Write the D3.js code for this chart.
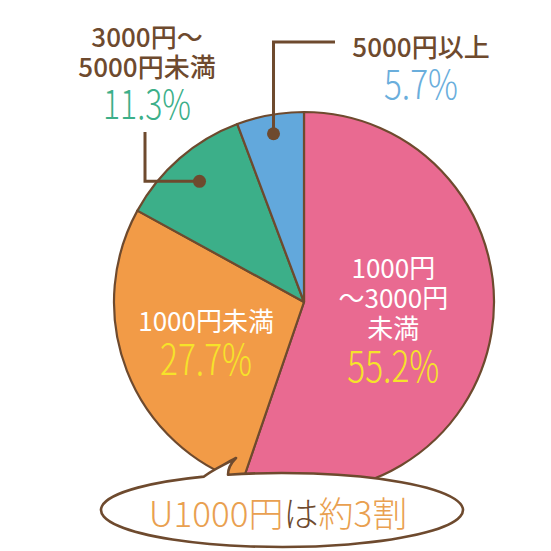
<!DOCTYPE html>
<html>
<head>
<meta charset="utf-8">
<script src="https://cdn.jsdelivr.net/npm/d3@7"></script>
<style>
  html, body { margin: 0; padding: 0; background: #fff; }
  svg { display: block; }
  text { font-family: "Noto Sans CJK JP", "Noto Sans", sans-serif; }
</style>
</head>
<body>
<svg id="chart" width="551" height="551"></svg>
<script>
// Price bands, clockwise from 12 o'clock
const categories = ["1000円～3000円未満", "1000円未満", "3000円～5000円未満", "5000円以上"];
const values = [55.2, 27.7, 11.3, 5.7];
const labelLines = [["1000円", "～3000円", "未満"], ["1000円未満"], ["3000円～", "5000円未満"], ["5000円以上"]];
const valueLabels = ["55.2%", "27.7%", "11.3%", "5.7%"];
const fills = ["#E96A91", "#F29B47", "#3CAF89", "#62A8DC"];
const valueColors = ["#F6E32A", "#F6E32A", "#3CAF89", "#6AAEDC"];
const calloutParts = [["U1000円", "#E9A050"], ["は", "#6E4A2E"], ["約3割", "#E9A050"]];

const brown = "#6E4A2E";
const svg = d3.select("#chart");
const cx = 304, cy = 302, R = 190;

const pie = d3.pie().sort(null).value(d => d);
const arcs = pie(values);
const arc = d3.arc().innerRadius(0).outerRadius(R);

const g = svg.append("g").attr("transform", `translate(${cx},${cy})`);

g.selectAll("path.slice")
  .data(arcs)
  .join("path")
  .attr("class", "slice")
  .attr("d", arc)
  .attr("fill", (d, i) => fills[i])
  .attr("stroke", brown)
  .attr("stroke-width", 2.2)
  .attr("stroke-linejoin", "round");

// One text block per label: name lines, then a thin, narrow percentage
function labelBlock(parent, x, firstY, lh, lines, color, weight, pctY, pct, pctColor, pctSize, pctWidth) {
  const t = parent.append("text")
    .attr("text-anchor", "middle")
    .attr("dominant-baseline", "central");
  lines.forEach((s, k) => {
    t.append("tspan")
      .attr("x", x).attr("y", firstY + k * lh)
      .attr("fill", color)
      .attr("font-size", 26)
      .attr("font-weight", weight)
      .text(s);
  });
  t.append("tspan")
    .attr("x", x).attr("y", pctY)
    .attr("fill", pctColor)
    .attr("font-size", pctSize)
    .attr("font-weight", 300)
    .attr("textLength", pctWidth)
    .attr("lengthAdjust", "spacingAndGlyphs")
    .text(pct);
}

// Inside labels for the two large slices
const innerArc = d3.arc().innerRadius(0).outerRadius(2 * R * 0.53);
[0, 1].forEach(i => {
  const [x, y] = innerArc.centroid(arcs[i]);
  const lines = labelLines[i];
  const lh = 30;
  const total = lines.length * lh + 38;
  const top = y - total / 2 - (i === 0 ? 4 : 0);
  const lx = i === 0 ? x - 10 : x - 4;
  labelBlock(g, lx, top + lh / 2, lh, lines, "#fff", 400,
    top + lines.length * lh + 22, valueLabels[i], valueColors[i], 42, 92);
});

// Leader lines for the small slices
function dotAt(i, frac) {
  const a = (arcs[i].startAngle + arcs[i].endAngle) / 2;
  return [cx + Math.sin(a) * R * frac, cy - Math.cos(a) * R * frac];
}
const greenDot = dotAt(2, 0.84);
const blueDot = dotAt(3, 0.9);

const leaders = [
  { dot: greenDot, pts: [greenDot, [145, greenDot[1]], [145, 132]] },
  { dot: blueDot, pts: [blueDot, [blueDot[0], 42], [335, 42]] }
];
leaders.forEach(l => {
  svg.append("path")
    .attr("d", d3.line()(l.pts))
    .attr("fill", "none")
    .attr("stroke", brown)
    .attr("stroke-width", 3)
    .attr("stroke-linejoin", "miter");
  svg.append("circle")
    .attr("cx", l.dot[0]).attr("cy", l.dot[1]).attr("r", 6.5)
    .attr("fill", brown);
});

// Outer labels
labelBlock(svg, 147, 35, 30, labelLines[2], brown, 500, 102, valueLabels[2], valueColors[2], 40, 88);
labelBlock(svg, 421, 45, 32, labelLines[3], brown, 500, 82, valueLabels[3], valueColors[3], 40, 74);

// Speech bubble callout
const bx = 282, by = 510, rx = 181, ry = 37;
const ey = x => by - ry * Math.sqrt(1 - ((x - bx) / rx) ** 2);
const x1 = 228, x0 = 204;
const bubble = `M${x1},${ey(x1)} A${rx},${ry} 0 1,1 ${x0},${ey(x0)}`
  + ` C212,470 222,466 236,458 C230,464 228,469 ${x1},${ey(x1)} Z`;
svg.append("path")
  .attr("d", bubble)
  .attr("fill", "#fff")
  .attr("stroke", brown)
  .attr("stroke-width", 2.6)
  .attr("stroke-linejoin", "round");

const ct = svg.append("text")
  .attr("x", bx - 4).attr("y", by + 1)
  .attr("text-anchor", "middle")
  .attr("dominant-baseline", "central")
  .attr("font-size", 35)
  .attr("font-weight", 300);
calloutParts.forEach(([t, c]) => ct.append("tspan").attr("fill", c).text(t));
</script>
</body>
</html>
